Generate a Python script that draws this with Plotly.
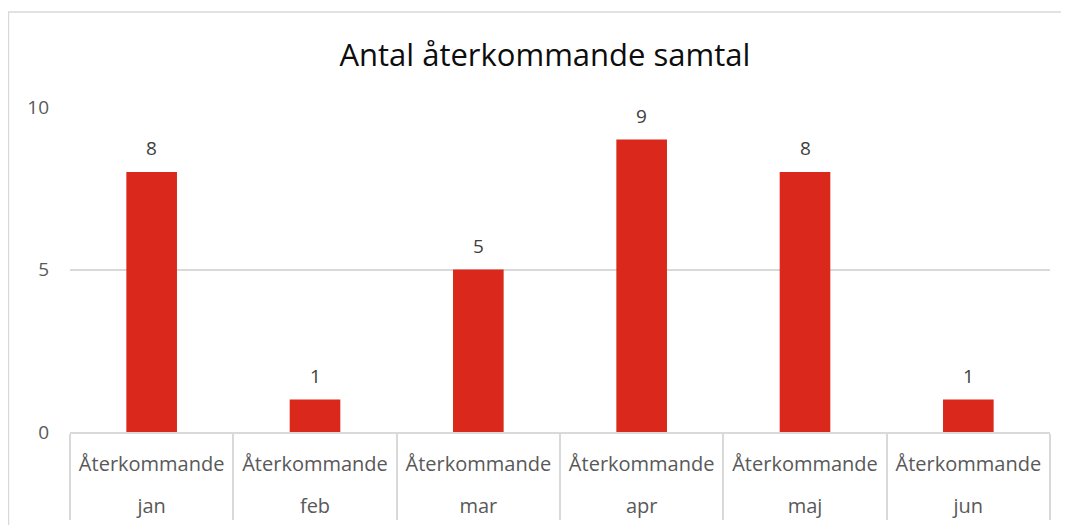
import plotly.graph_objects as go

# Data
months = ["jan", "feb", "mar", "apr", "maj", "jun"]
series_name = "Återkommande"
values = [8, 1, 5, 9, 8, 1]
y_ticks = [0, 5, 10]

TITLE = "Antal återkommande samtal"
BAR_COLOR = "#DA291C"
GRID = "#D9D9D9"
FONT = "'Open Sans', sans-serif"

fig = go.Figure()
fig.add_trace(go.Bar(
    x=[["<br>" + m for m in months], [series_name] * len(months)],
    y=values,
    marker=dict(color=BAR_COLOR, line=dict(width=0)),
    width=0.31,
    hoverinfo="skip",
))

# värdeetiketter ovanför staplarna
annotations = [
    dict(x=i, y=v, text=str(v), showarrow=False, yanchor="middle", yshift=24,
         font=dict(size=19, color="#404040", family=FONT))
    for i, v in enumerate(values)
]

# page has an 8px body margin, so the figure is 8px smaller than the window
fig.update_layout(
    width=1061, height=517,
    margin=dict(l=62, r=19, t=99, b=93),
    paper_bgcolor="white",
    plot_bgcolor="white",
    showlegend=False,
    title=dict(text=TITLE, x=0.506, xanchor="center", y=0.909, yanchor="middle",
               font=dict(size=31, color="#0D0D0D", family=FONT)),
    font=dict(family=FONT, color="#595959", size=20),
    annotations=annotations,
    xaxis=dict(
        type="multicategory", automargin=False,
        showline=True, linecolor=GRID, linewidth=1.5,
        showdividers=True, dividercolor=GRID, dividerwidth=1.5,
        tickfont=dict(size=20, color="#595959", family=FONT),
        ticklabelstandoff=13,
        ticks="", showgrid=False,
    ),
    yaxis=dict(
        range=[0, 10], tickvals=y_ticks, automargin=False,
        showgrid=True, gridcolor=GRID, gridwidth=1.5,
        zeroline=False, showline=False, ticks="",
        ticklabelstandoff=20,
        tickfont=dict(size=19, color="#595959", family=FONT),
    ),
    shapes=[dict(
        type="rect", xref="paper", yref="paper",
        x0=-0.0628, x1=1.05, y0=-0.35, y1=1.2923,
        line=dict(color=GRID, width=1.5), fillcolor="rgba(0,0,0,0)",
        layer="below",
    )],
)

fig.write_html("out.html")
